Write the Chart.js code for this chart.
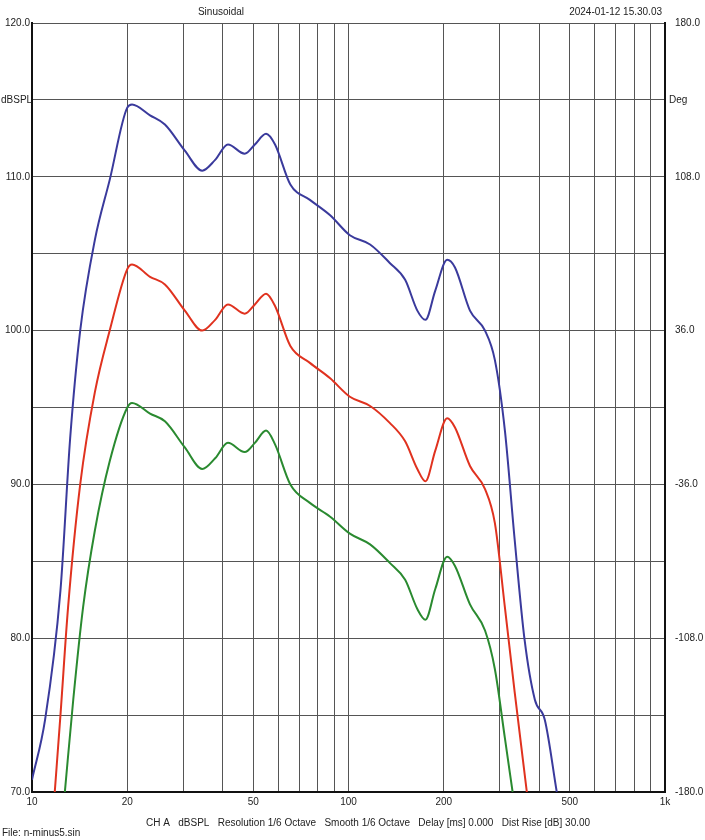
<!DOCTYPE html>
<html><head><meta charset="utf-8">
<script src="https://cdn.jsdelivr.net/npm/chart.js@4"></script>
<style>html,body{margin:0;padding:0;background:#fff}#wrap{width:705px;height:840px}</style>
</head><body><div id="wrap"><canvas id="c" width="705" height="840"></canvas></div>
<script>
const xTickValues = [10, 20, 30, 40, 50, 60, 70, 80, 90, 100, 200, 300, 400, 500, 600, 700, 800, 900, 1000];
const xTickLabels = { 10: "10", 20: "20", 50: "50", 100: "100", 200: "200", 500: "500", 1000: "1k" };
const rightTickLabels = [-180, -108, -36, 36, 108, 180];

const blueFreq = [10, 11, 12.3, 13.2, 14.2, 15.8, 17.6, 20, 20.7, 23.6, 26.3, 30.4, 34.5, 37.9, 41.6, 47, 50.6, 54.9, 58.6, 65.5, 75.5, 87.5, 101, 117, 135, 151, 165, 175, 188, 205, 217, 242, 270, 290, 312, 335, 360, 388, 417, 455];
const blueDb = [70.8, 74.7, 83.1, 93, 100, 105.9, 109.8, 114.5, 114.7, 114, 113.4, 111.7, 110.4, 111.1, 112.1, 111.5, 112.1, 112.8, 112.1, 109.5, 108.5, 107.5, 106.2, 105.6, 104.4, 103.3, 101.3, 100.7, 102.6, 104.6, 104.1, 101.3, 100, 98.1, 93.5, 86.4, 79.9, 76, 74.7, 70];

const redFreq = [11.8, 12.3, 13, 14.2, 15.8, 17.6, 20, 20.7, 23.6, 26.3, 30.4, 34.5, 37.9, 41.6, 47, 50.6, 54.9, 58.6, 65.5, 75.5, 87.5, 101, 117, 135, 151, 165, 175, 188, 205, 217, 242, 270, 290, 312, 335, 366];
const redDb = [70, 75, 82, 90, 96, 100, 104, 104.3, 103.5, 103, 101.3, 100, 100.7, 101.7, 101.1, 101.7, 102.4, 101.6, 99, 97.9, 96.9, 95.7, 95.1, 94, 92.8, 91, 90.2, 92.2, 94.3, 93.7, 91.2, 89.7, 87.5, 82, 76.5, 70];

const greenFreq = [12.7, 13.5, 14.5, 15.8, 17.6, 20, 20.7, 23.6, 26.3, 30.4, 34.5, 37.9, 41.6, 47, 50.6, 54.9, 58.6, 65.5, 75.5, 87.5, 101, 117, 135, 151, 165, 175, 188, 205, 217, 242, 270, 290, 312, 330];
const greenDb = [70, 76, 82, 87, 91.5, 95, 95.3, 94.6, 94.1, 92.4, 91, 91.7, 92.7, 92.1, 92.7, 93.5, 92.6, 90, 88.8, 87.9, 86.8, 86.1, 84.9, 83.8, 81.9, 81.2, 83.2, 85.3, 84.7, 82.2, 80.5, 78, 73.5, 70];

const pts = (f, v) => f.map((x, i) => ({ x: x, y: v[i] }));
const FONT = "'Liberation Sans', Arial, sans-serif";

const textPlugin = {
  id: "texts",
  afterDraw(chart) {
    const c = chart.ctx;
    c.save();
    c.fillStyle = "#222";
    c.font = "10px " + FONT;
    c.textBaseline = "middle";
    c.textAlign = "center";
    c.fillText("Sinusoidal", 221, 12);
    c.textAlign = "right";
    c.fillText("2024-01-12 15.30.03", 662, 12);
    c.textAlign = "left";
    c.fillText("dBSPL", 1, 100);
    c.fillText("Deg", 669, 100);
    c.fillText("CH A   dBSPL   Resolution 1/6 Octave   Smooth 1/6 Octave   Delay [ms] 0.000   Dist Rise [dB] 30.00", 146, 823);
    c.fillText("File: n-minus5.sin", 2, 833);
    c.restore();
  }
};

new Chart(document.getElementById("c"), {
  type: "line",
  data: {
    datasets: [
      { data: pts(blueFreq, blueDb), borderColor: "#3a3a9c", borderWidth: 2, pointRadius: 0, cubicInterpolationMode: "monotone" },
      { data: pts(redFreq, redDb), borderColor: "#e0321f", borderWidth: 2, pointRadius: 0, cubicInterpolationMode: "monotone" },
      { data: pts(greenFreq, greenDb), borderColor: "#2a8a30", borderWidth: 2, pointRadius: 0, cubicInterpolationMode: "monotone" },
    ],
  },
  options: {
    responsive: false,
    animation: false,
    layout: { padding: { top: 23, right: 0, left: 0, bottom: 0 } },
    plugins: { legend: { display: false }, tooltip: { enabled: false } },
    scales: {
      x: {
        type: "logarithmic", min: 10, max: 1000,
        afterBuildTicks: (s) => { s.ticks = xTickValues.map((v) => ({ value: v })); },
        afterFit: (s) => { s.height = 48; },
        ticks: { autoSkip: false, maxRotation: 0, color: "#222", font: { size: 10, family: FONT }, padding: 4,
          callback: (v) => xTickLabels[v] || "" },
        grid: { color: "#555", lineWidth: 1, drawTicks: false },
        border: { color: "#111", width: 2 },
      },
      y: {
        min: 70, max: 120,
        afterBuildTicks: (s) => { const t = []; for (let v = 70; v <= 120; v += 5) t.push({ value: v }); s.ticks = t; },
        afterFit: (s) => { s.width = 32; },
        ticks: { color: "#222", font: { size: 10, family: FONT }, padding: 2,
          callback: (v) => (v % 10 === 0 ? v.toFixed(1) : "") },
        grid: { color: "#555", lineWidth: 1, drawTicks: false },
        border: { color: "#111", width: 2 },
      },
      y2: {
        position: "right", min: -180, max: 180,
        afterBuildTicks: (s) => { s.ticks = rightTickLabels.map((v) => ({ value: v })); },
        afterFit: (s) => { s.width = 40; },
        ticks: { color: "#222", font: { size: 10, family: FONT }, padding: 2, callback: (v) => v.toFixed(1) },
        grid: { display: false },
        border: { color: "#111", width: 2 },
      },
    },
  },
  plugins: [textPlugin],
});
</script></body></html>
